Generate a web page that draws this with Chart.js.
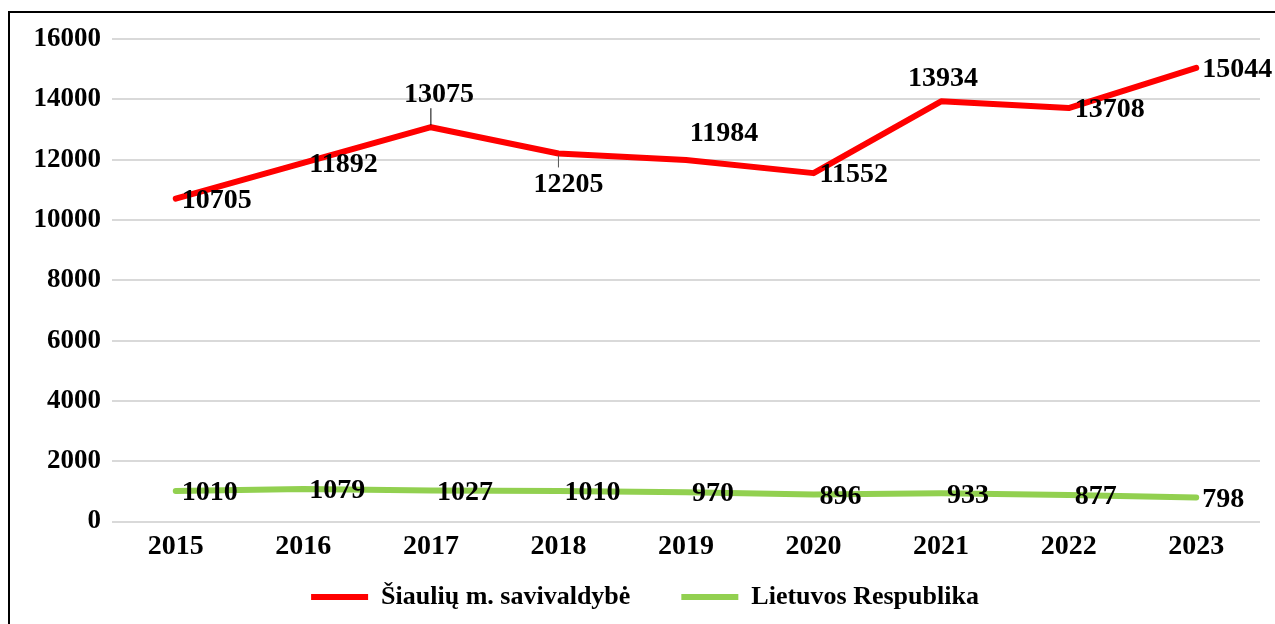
<!DOCTYPE html>
<html>
<head>
<meta charset="utf-8">
<script src="https://cdn.jsdelivr.net/npm/chart.js@4"></script>
<style>
  body { margin: 0; background: #fff; }
  #frame { position: absolute; left: 8px; top: 11px; width: 1300px; height: 700px;
           border-top: 2px solid #000; border-left: 2px solid #000; }
  #grafico { position: absolute; left: 0; top: 0; }
</style>
</head>
<body>
<div id="frame"></div>
<canvas id="grafico" width="1275" height="624"></canvas>
<script>
// Dados
const metai = ["2015", "2016", "2017", "2018", "2019", "2020", "2021", "2022", "2023"];
const siauliai = [10705, 11892, 13075, 12205, 11984, 11552, 13934, 13708, 15044];
const lietuva = [1010, 1079, 1027, 1010, 970, 896, 933, 877, 798];
const yTicks = [0, 2000, 4000, 6000, 8000, 10000, 12000, 14000, 16000];

// kur dedamos reikšmių etiketės (r = dešinėje, t = virš, tl/bl = su linija, tr = virš dešinėje)
const siauliaiVieta = ["r", "r", "tl", "bl", "tr", "r", "t", "r", "r"];
const lietuvaVieta = ["r", "r", "r", "r", "r", "r", "r", "r", "r"];

const FONT = "'Liberation Serif', 'Times New Roman', serif";

const etiketes = {
  id: "etiketes",
  afterDatasetsDraw(chart) {
    const ctx = chart.ctx;
    const vietos = [siauliaiVieta, lietuvaVieta];
    ctx.save();
    ctx.font = "bold 28px " + FONT;
    ctx.fillStyle = "#000";
    ctx.textBaseline = "middle";
    chart.data.datasets.forEach((ds, d) => {
      const meta = chart.getDatasetMeta(d);
      meta.data.forEach((pt, i) => {
        const txt = String(ds.data[i]);
        const v = vietos[d][i];
        let x = pt.x, y = pt.y;
        if (v === "r") {
          ctx.textAlign = "left";
          ctx.fillText(txt, x + 6, y + 2);
        } else if (v === "t") {
          ctx.textAlign = "center";
          ctx.fillText(txt, x + 2, y - 23);
        } else if (v === "tr") {
          ctx.textAlign = "center";
          ctx.fillText(txt, x + 38, y - 26);
        } else if (v === "tl") {
          ctx.textAlign = "center";
          ctx.fillText(txt, x + 8, y - 32);
          ctx.beginPath();
          ctx.lineWidth = 1;
          ctx.strokeStyle = "#000";
          ctx.moveTo(x, y - 2);
          ctx.lineTo(x, y - 19);
          ctx.stroke();
        } else if (v === "bl") {
          ctx.textAlign = "center";
          ctx.fillText(txt, x + 10, y + 31);
          ctx.beginPath();
          ctx.lineWidth = 1;
          ctx.strokeStyle = "#555";
          ctx.moveTo(x, y + 2);
          ctx.lineTo(x, y + 14);
          ctx.stroke();
        }
      });
    });
    ctx.restore();
  }
};

const ctx = document.getElementById("grafico").getContext("2d");
new Chart(ctx, {
  type: "line",
  data: {
    labels: metai,
    datasets: [
      {
        label: "Šiaulių m. savivaldybė",
        data: siauliai,
        borderColor: "#ff0000",
        backgroundColor: "#ff0000",
        borderWidth: 6,
        borderCapStyle: "round",
        borderJoinStyle: "round",
        pointRadius: 0,
        tension: 0
      },
      {
        label: "Lietuvos Respublika",
        data: lietuva,
        borderColor: "#92d050",
        backgroundColor: "#92d050",
        borderWidth: 6,
        borderCapStyle: "round",
        borderJoinStyle: "round",
        pointRadius: 0,
        tension: 0
      }
    ]
  },
  options: {
    responsive: false,
    animation: false,
    layout: { padding: { left: 30, right: 15, top: 39, bottom: 4 } },
    plugins: {
      tooltip: { enabled: false },
      legend: {
        position: "bottom",
        labels: {
          usePointStyle: true,
          pointStyle: "line",
          pointStyleWidth: 57,
          boxHeight: 6,
          padding: 25,
          color: "#000",
          font: { family: FONT, size: 26, weight: "bold" },
          generateLabels(chart) {
            const items = Chart.defaults.plugins.legend.labels.generateLabels(chart);
            // šiek tiek daugiau tarpo tarp legendos elementų
            items[0].text += "\u2003";
            return items;
          }
        }
      }
    },
    scales: {
      x: {
        offset: true,
        grid: { display: false, drawTicks: false },
        border: { display: false },
        ticks: { color: "#000", padding: 8, font: { family: FONT, size: 28, weight: "bold" } },
        afterFit(scale) { scale.height = 37.5; }
      },
      y: {
        min: 0,
        max: 16000,
        afterBuildTicks(scale) { scale.ticks = yTicks.map(v => ({ value: v })); },
        grid: { color: "#d9d9d9", lineWidth: 2, drawTicks: false },
        border: { display: false },
        ticks: {
          color: "#000",
          padding: 11,
          font: { family: FONT, size: 27, weight: "bold" },
          callback: (v) => String(v)
        },
        afterFit(scale) { scale.width = 82; }
      }
    }
  },
  plugins: [etiketes]
});
</script>
</body>
</html>
